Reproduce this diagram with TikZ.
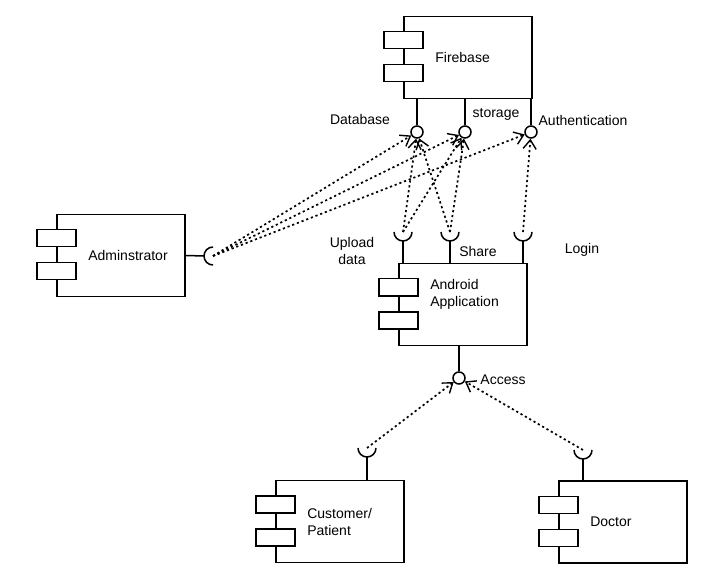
\documentclass[tikz,border=0pt]{standalone}
\usepackage{fontspec}
\setmainfont{Liberation Sans}
\usepackage{tikz}
\usetikzlibrary{positioning, arrows.meta, calc}

\begin{document}
\begin{tikzpicture}[x=1pt, y=1pt, line width=1.5pt,
  every node/.style={font=\fontsize{14}{17}\selectfont},
  comp/.style={draw, minimum width=128pt, minimum height=82pt, inner sep=0pt},
  icon/.style={draw, fill=white},
  ball/.style={circle, draw, fill=white, minimum size=12pt, inner sep=0pt},
  dep/.style={line width=1.7pt, dash pattern=on 2.2pt off 2.8pt, -{Straight Barb[length=9pt, width=13pt, line width=1.4pt]}}]
\useasboundingbox (0,0) rectangle (725,579);
\pgfmathsetmacro{\rs}{9}

% Components
\node[comp] (fb) at (468,521.5) {};
\node[comp] (admin) at (121,323.5) {};
\node[comp] (app) at (463,274.5) {};
\node[comp] (cust) at (340,57.5) {};
\node[comp] (doc) at (623,57) {};

% Component icons
\foreach \c in {fb, admin, app, cust, doc} {
  \draw[icon] ([shift={(-19.5,-16)}]\c.north west) rectangle ++(39,-17);
  \draw[icon] ([shift={(-19.5,-49)}]\c.north west) rectangle ++(39,-17);
}

% Component names
\node[anchor=west] (fbname) at ([xshift=28pt]fb.west) {Firebase};
\node[anchor=west] (adminname) at ([xshift=28pt]admin.west) {Adminstrator};
\node[anchor=west, align=left] (appname) at ([shift={(28,10)}]app.west) {Android\\Application};
\node[anchor=west, align=left] (custname) at ([xshift=28pt]cust.west) {Customer/\\Patient};
\node[anchor=west] (docname) at ([xshift=28pt]doc.west) {Doctor};

% Provided interfaces (balls)
\node[ball] (db) at (417,447) {};
\node[ball] (st) at (465,447) {};
\node[ball] (au) at (531,447) {};
\node[ball] (acc) at (459,201) {};
\foreach \b in {db, st, au}
  \draw (\b.north) -- (\b |- fb.south);
\draw (acc.north) -- (acc |- app.south);

% Required interfaces (sockets)
\coordinate (sup) at (403,347);
\coordinate (ssh) at (450,347);
\coordinate (slg) at (523,347);
\coordinate (scs) at (367,131);
\coordinate (sdc) at (583,129);
\coordinate (sadm) at (213,323);
\foreach \s/\c in {sup/app, ssh/app, slg/app, scs/cust, sdc/doc} {
  \draw ([xshift=-\rs pt]\s) arc[start angle=180, end angle=360, radius=\rs];
  \draw ([yshift=-\rs pt]\s) -- (\s |- \c.north);
}
\draw ([yshift=\rs pt]sadm) arc[start angle=90, end angle=270, radius=\rs];
\draw (admin.east) -- ([xshift=-\rs pt]sadm);

% Dependencies
\foreach \s/\b in {sadm/db, sadm/st, sadm/au, sup/db, sup/st, ssh/st, ssh/db, slg/au, scs/acc, sdc/acc}
  \draw[dep] (\s) -- (\b);

% Interface labels
\node (ldb) at (360,460) {Database};
\node (lst) at (496,465) {storage};
\node (lau) at (583,459) {Authentication};
\node[align=center] (lup) at (352,328.5) {Upload\\data};
\node (lsh) at (478,328) {Share};
\node (llg) at (582,329) {Login};
\node (lacc) at (503,199) {Access};

\end{tikzpicture}
\end{document}
